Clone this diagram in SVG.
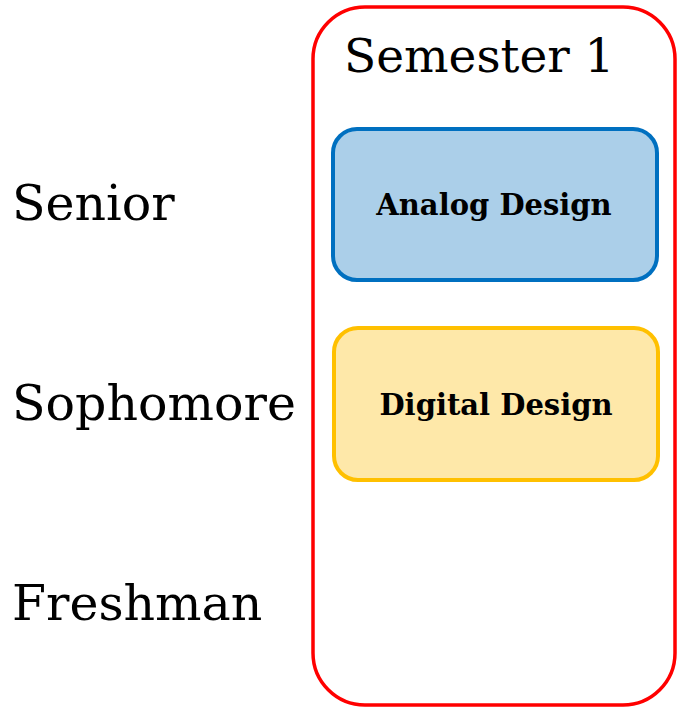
<svg xmlns="http://www.w3.org/2000/svg" width="677" height="708" viewBox="0 0 677 708">
  <style>
    .label { font-family: "DejaVu Serif", "Liberation Serif", serif; fill: #000; }
    .year { font-size: 49px; }
    .title { font-size: 47px; }
    .course { font-size: 29px; font-weight: bold; text-anchor: middle; }
  </style>
  <rect width="677" height="708" fill="#ffffff"/>
  <g id="year-labels">
    <text class="label year" x="12" y="220">Senior</text>
    <text class="label year" x="12" y="420">Sophomore</text>
    <text class="label year" x="12" y="620">Freshman</text>
  </g>
  <g id="semester-1">
    <rect x="313" y="7" width="362" height="698" rx="52" ry="52" fill="none" stroke="#ff0000" stroke-width="3.5"/>
    <text class="label title" x="344" y="72">Semester 1</text>
  </g>
  <g id="analog-design">
    <rect x="333" y="129" width="324" height="151" rx="24" ry="24" fill="#abcfe9" stroke="#0070c0" stroke-width="4"/>
    <text class="label course" x="494" y="215">Analog Design</text>
  </g>
  <g id="digital-design">
    <rect x="334" y="328" width="324" height="152" rx="24" ry="24" fill="#fee8a9" stroke="#ffc000" stroke-width="4"/>
    <text class="label course" x="496" y="415">Digital Design</text>
  </g>
  <g id="connectors"></g>
</svg>
